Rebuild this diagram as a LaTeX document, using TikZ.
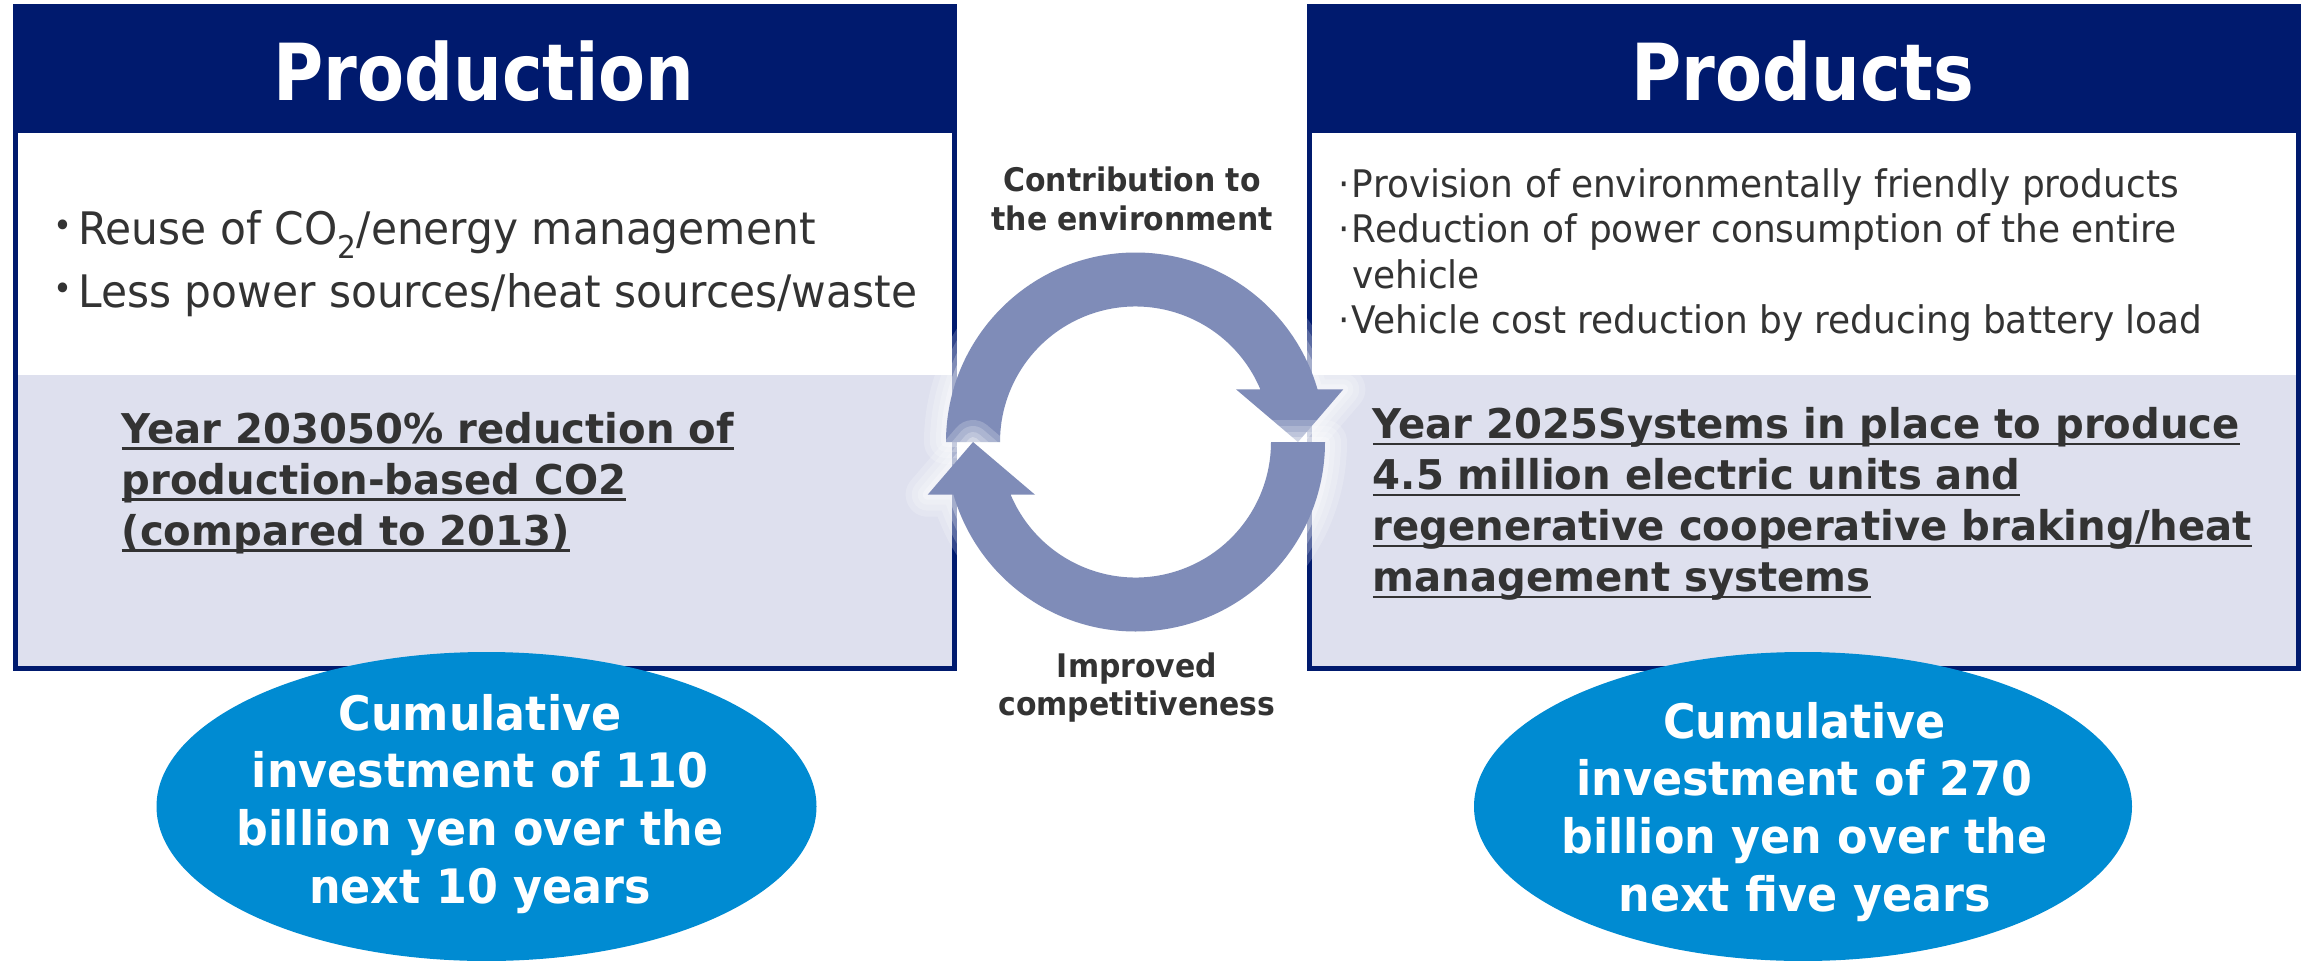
\documentclass[tikz,border=0pt]{standalone}
\usepackage{fontspec}
\usetikzlibrary{shapes.geometric}
\setmainfont{DejaVu Sans}
\newfontfamily\regf{DejaVu Sans}[FakeStretch=0.945]
\newfontfamily\boldf{DejaVu Sans}[FakeStretch=0.98]
\newfontfamily\titlef{DejaVu Sans}[FakeStretch=0.87]
\newfontfamily\ellf{DejaVu Sans}[FakeStretch=0.935]
\newfontfamily\labf{DejaVu Sans}[FakeStretch=0.92]
\definecolor{navy}{RGB}{0,26,110}
\definecolor{lav}{RGB}{222,224,238}
\definecolor{ellblue}{RGB}{0,139,210}
\definecolor{arrowc}{RGB}{127,140,184}
\definecolor{txtgray}{RGB}{51,51,51}
\newsavebox{\ulbox}
\newcommand{\ulx}[1]{\sbox{\ulbox}{#1}\rlap{\rule[-6.5pt]{\wd\ulbox}{2.4pt}}\usebox{\ulbox}}
\newcommand{\bigdot}{\llap{\raisebox{7pt}{\fontsize{34}{34}\selectfont •}\hspace{6pt}}}
\newcommand{\smalldot}{\llap{·\hspace{2pt}}}
\begin{document}
\begin{tikzpicture}[x=1pt, y=1pt, yscale=-1,
  every node/.style={inner sep=0pt, outer sep=0pt},
  titletext/.style={text=white, font=\titlef\bfseries\fontsize{78.7}{80}\selectfont},
  bulA/.style={text=txtgray, align=left, font=\regf\fontsize{44.8}{63.3}\selectfont},
  bulB/.style={text=txtgray, align=left, font=\regf\fontsize{38}{45.5}\selectfont},
  goal/.style={text=txtgray, align=left, font=\boldf\bfseries\fontsize{41}{51}\selectfont},
  cyc/.style={text=txtgray, align=center, font=\labf\bfseries\fontsize{32.5}{38.3}\selectfont},
  invest/.style={text=white, align=center, font=\ellf\bfseries\fontsize{47.5}{57.7}\selectfont},
  ellbox/.style={ellipse, fill=ellblue, minimum width=660, minimum height=309},
  boxline/.style={draw=navy, line width=5},
  glowarrow/.style={fill=arrowc,
    preaction={draw=white, draw opacity=0.2, line width=44, line join=round},
    preaction={draw=white, draw opacity=0.2, line width=32, line join=round},
    preaction={draw=white, draw opacity=0.22, line width=20, line join=round},
    preaction={draw=white, draw opacity=0.3, line width=10, line join=round}}
]
\useasboundingbox (0,0) rectangle (2305,961);
\fill[white] (0,0) rectangle (2305,961);

% left box
\fill[navy] (12.5,4) rectangle (956.5,133);
\fill[lav] (17.5,375) rectangle (951.5,666);
\draw[boxline] (15,6.5) rectangle (954,668.5);
% right box
\fill[navy] (1307,4) rectangle (2300.5,133);
\fill[lav] (1312,375) rectangle (2295.5,666);
\draw[boxline] (1309.5,6.5) rectangle (2298,668.5);

% titles
\node[titletext, anchor=base] (prodtitle) at (484,100.7) {Production};
\node[titletext, anchor=base] (prodstitle) at (1803,100.7) {Products};

% left bullets (anchor = baseline of last line)
\node[bulA, anchor=base west] (leftbul) at (78.3,307.3)
  {\bigdot Reuse of CO\textsubscript{2}/energy management\\
   \bigdot Less power sources/heat sources/waste};

% right bullets
\node[bulB, anchor=base west] (rightbul) at (1352,333.5)
  {\smalldot Provision of environmentally friendly products\\
   \smalldot Reduction of power consumption of the entire\\
   vehicle\\
   \smalldot Vehicle cost reduction by reducing battery load};

% goals
\node[goal, anchor=base west] (leftgoal) at (121.7,545)
  {\ulx{Year 203050\% reduction of}\\
   \ulx{production-based CO2}\\
   \ulx{(compared to 2013)}};
\node[goal, anchor=base west] (rightgoal) at (1372.8,591.5)
  {\ulx{Year 2025Systems in place to produce}\\
   \ulx{4.5 million electric units and}\\
   \ulx{regenerative cooperative braking/heat}\\
   \ulx{management systems}};

% ellipses
\node[ellbox] (leftell) at (486.5,806.5) {};
\node[ellbox, minimum width=658] (rightell) at (1803,806.5) {};
\node[invest, anchor=base] (leftinv) at (480,903.1)
  {Cumulative\\investment of 110\\billion yen over the\\next 10 years};
\node[invest, anchor=base] (rightinv) at (1804.5,911.1)
  {Cumulative\\investment of 270\\billion yen over the\\next five years};

% cycle labels
\node[cyc, anchor=base] (envlab) at (1132,230) {Contribution to\\the environment};
\node[cyc, anchor=base] (complab) at (1137,715.3) {Improved\\competitiveness};

% circular arrows
\begin{scope}[shift={(1135.5,442)}]
\coordinate (ringc) at (0,0);
\path[glowarrow] (180:189.5) arc[start angle=180, end angle=343.85, radius=189.5]
  -- (207.8,-52.7) -- (162.5,0) -- (100.5,-52.7)
  -- (337.11:135.5) arc[start angle=337.11, end angle=180, radius=135.5] -- cycle;
\path[glowarrow] (0:189.5) arc[start angle=0, end angle=163.85, radius=189.5]
  -- (-207.8,52.7) -- (-162.5,0) -- (-100.5,52.7)
  -- (157.11:135.5) arc[start angle=157.11, end angle=0, radius=135.5] -- cycle;
\end{scope}
\end{tikzpicture}
\end{document}
